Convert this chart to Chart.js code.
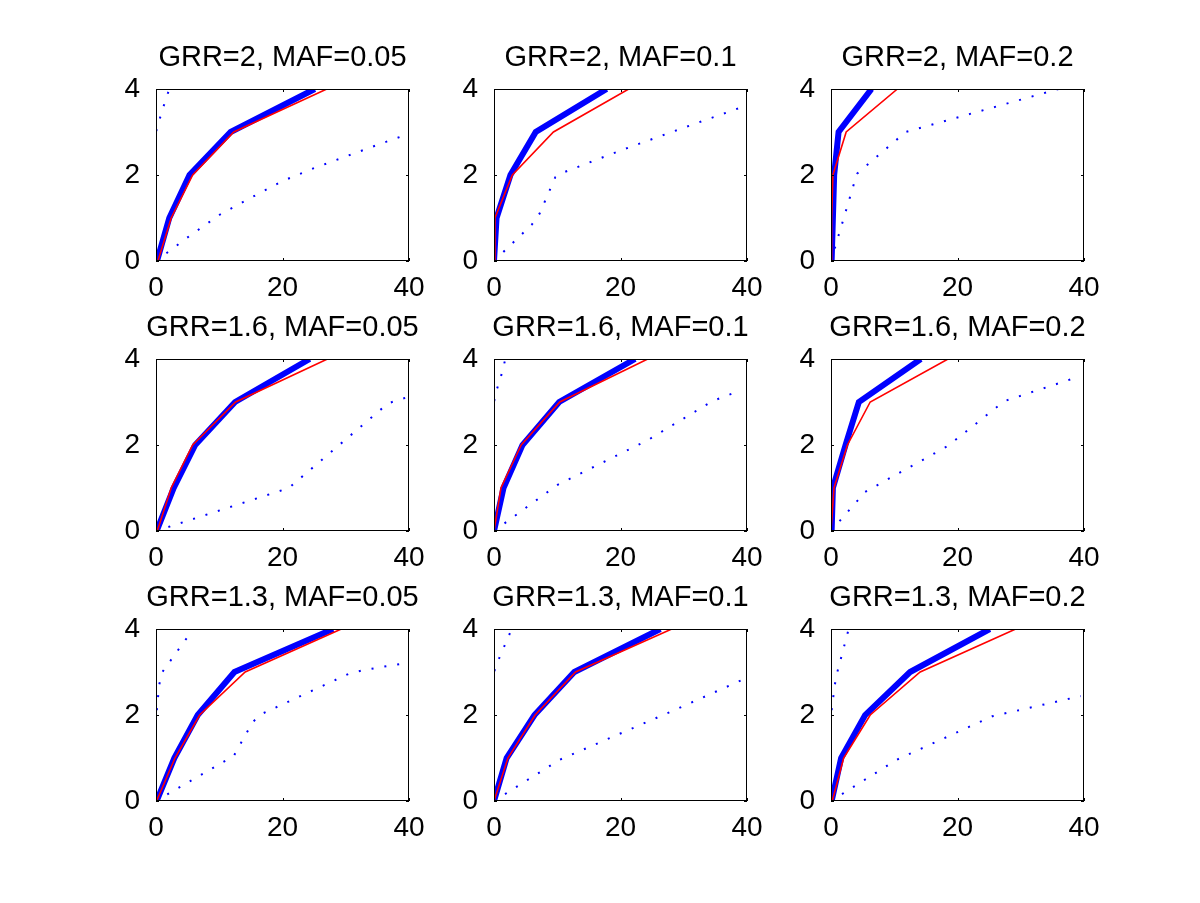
<!DOCTYPE html>
<html>
<head>
<meta charset="utf-8">
<script src="https://cdn.jsdelivr.net/npm/chart.js@4"></script>
<style>
  body { margin: 0; background: #fff; }
  #wrap { position: relative; width: 1200px; height: 903px; background: #fff; }
  canvas { position: absolute; }
</style>
</head>
<body>
<div id="wrap"></div>
<script>
// titulos dos paineis (linha a linha)
var titles = ['GRR=2, MAF=0.05', 'GRR=2, MAF=0.1', 'GRR=2, MAF=0.2',
              'GRR=1.6, MAF=0.05', 'GRR=1.6, MAF=0.1', 'GRR=1.6, MAF=0.2',
              'GRR=1.3, MAF=0.05', 'GRR=1.3, MAF=0.1', 'GRR=1.3, MAF=0.2'];
var xTicks = [0, 20, 40];
var yTicks = [0, 2, 4];
var yLevels = [0, 1, 2, 3, 4];

// linha azul grossa: x em cada nivel de y
var blueX = [
  [0.16, 2.1, 5.3, 11.8, 25.1],
  [0, 0.4, 2.6, 6.6, 17.8],
  [0.1, 0.3, 0.5, 1.2, 6.4],
  [0.1, 2.8, 6.2, 12.5, 24.3],
  [0, 1.5, 4.5, 10.3, 22.3],
  [0.1, 0.3, 2.3, 4.4, 14.2],
  [0.1, 2.9, 6.6, 12.4, 28],
  [0, 2.0, 6.4, 12.7, 26.3],
  [0.1, 1.6, 5.4, 12.5, 25.1]
];
// linha vermelha fina
var redX = [
  [0.3, 2.4, 5.8, 12.3, 27],
  [0, 0.15, 2.9, 9.4, 21.3],
  [0, 0.1, 0.3, 2.4, 10.5],
  [0.2, 2.4, 5.8, 12.6, 27.1],
  [0, 1.1, 4.3, 10.4, 24.3],
  [0, 0.47, 2.6, 6.2, 18.5],
  [0.1, 3.0, 6.9, 14.1, 29.3],
  [0, 2.2, 6.5, 12.9, 28.1],
  [0.2, 2.0, 6.2, 14.1, 29.2]
];
// pontilhado da direita [x, y]
var dotLower = [
  [[0,0],[5,0.55],[10,1.07],[15,1.47],[20,1.86],[25,2.16],[30,2.43],[35,2.70],[40,2.96]],
  [[0,0],[6,0.85],[7.2,1.1],[9.7,1.95],[11,2.06],[20,2.57],[30,3.1],[40,3.62]],
  [[0,0],[4.1,2.03],[11.8,3.0],[36,4]],
  [[0,0],[21,1.0],[36.7,2.97],[39.5,3.1]],
  [[0,0],[10,1.07],[24.4,2.12],[34.5,3.02],[39,3.27]],
  [[0,0],[5.4,0.91],[18.5,1.98],[27.4,3.02],[39,3.58]],
  [[0,0],[12.3,1.05],[15.3,1.84],[16.8,2.03],[30.5,2.96],[33,3.05],[40,3.22]],
  [[0,0],[10.4,0.96],[28,2.08],[39,2.8]],
  [[0,0],[10.4,0.96],[25.5,1.97],[39.5,2.44]]
];
// pontilhado junto ao eixo y
var dotUpper = [
  [[0,0],[0,3.0],[0.6,3.31],[1.2,3.6],[2.1,4]],
  [[0,0],[0,4]],
  [[0,0],[0,4]],
  [[0,0],[0,4]],
  [[0,0],[0,3.0],[0.42,3.28],[1.06,3.57],[1.8,4]],
  [[0,0],[0,4]],
  [[0,0],[0,1.9],[0.5,2.7],[1,3.0],[5.9,4]],
  [[0,0],[0,3.0],[0.7,3.28],[2.8,4]],
  [[0,0],[0,2.0],[0.6,2.7],[1,3],[2.8,4]]
];

var colLeft = [156, 494, 831];
var rowTop = [89, 359, 629];
var plotW = 253, plotH = 172;
var fonte = '"Liberation Sans", Arial, Helvetica, sans-serif';

function toPts(arr) {
    return arr.map(function (p) { return { x: p[0], y: p[1] }; });
}
function levelPts(xs) {
    return xs.map(function (v, i) { return { x: v, y: yLevels[i] }; });
}

// caixa do eixo e ticks para dentro (estilo matlab)
var moldura = {
    id: 'moldura',
    afterDraw: function (chart) {
        var ctx = chart.ctx, a = chart.chartArea;
        var sx = chart.scales.x, sy = chart.scales.y;
        ctx.save();
        ctx.strokeStyle = '#000';
        ctx.lineWidth = 1;
        ctx.strokeRect(a.left + 0.5, a.top + 0.5, a.right - a.left - 1, a.bottom - a.top - 1);
        ctx.beginPath();
        xTicks.forEach(function (v) {
            var px = Math.round(sx.getPixelForValue(v)) + 0.5;
            ctx.moveTo(px, a.bottom); ctx.lineTo(px, a.bottom - 3);
            ctx.moveTo(px, a.top); ctx.lineTo(px, a.top + 3);
        });
        yTicks.forEach(function (v) {
            var py = Math.round(sy.getPixelForValue(v)) + 0.5;
            ctx.moveTo(a.left, py); ctx.lineTo(a.left + 3, py);
            ctx.moveTo(a.right, py); ctx.lineTo(a.right - 3, py);
        });
        ctx.stroke();
        ctx.restore();
    }
};

var wrap = document.getElementById('wrap');

for (var i = 0; i < 9; i++) {
    var c = document.createElement('canvas');
    c.width = plotW + 120;
    c.height = 48 + plotH + 50;
    c.style.left = (colLeft[i % 3] - 60) + 'px';
    c.style.top = (rowTop[Math.floor(i / 3)] - 48) + 'px';
    wrap.appendChild(c);

    new Chart(c, {
        type: 'scatter',
        data: {
            datasets: [
                { data: levelPts(redX[i]), showLine: true, borderColor: '#ff0000', borderWidth: 1.6, pointRadius: 0 },
                { data: levelPts(blueX[i]), showLine: true, borderColor: '#0000ff', borderWidth: 6, pointRadius: 0 },
                { data: toPts(dotLower[i]), showLine: true, borderColor: '#0000ff', borderWidth: 2, borderDash: [2, 11], pointRadius: 0 },
                { data: toPts(dotUpper[i]), showLine: true, borderColor: '#0000ff', borderWidth: 2, borderDash: [2, 11], pointRadius: 0 }
            ]
        },
        options: {
            responsive: false,
            animation: false,
            devicePixelRatio: 1,
            layout: { padding: 0 },
            plugins: {
                legend: { display: false },
                tooltip: { enabled: false },
                title: {
                    display: true,
                    text: titles[i],
                    color: '#000',
                    font: { family: fonte, size: 29, weight: 'normal' },
                    padding: { top: 0, bottom: 13.2 }
                }
            },
            scales: {
                x: {
                    type: 'linear', min: 0, max: 40,
                    grid: { display: false },
                    border: { display: false },
                    afterFit: function (s) { s.height = 50; },
                    afterBuildTicks: function (s) { s.ticks = xTicks.map(function (v) { return { value: v }; }); },
                    ticks: { color: '#000', padding: 2, maxRotation: 0, font: { family: fonte, size: 28 } }
                },
                y: {
                    type: 'linear', min: 0, max: 4,
                    grid: { display: false },
                    border: { display: false },
                    afterFit: function (s) { s.width = 60; },
                    afterBuildTicks: function (s) { s.ticks = yTicks.map(function (v) { return { value: v }; }); },
                    ticks: { color: '#000', padding: 8, font: { family: fonte, size: 28 } }
                },
                // eixo vazio a direita so para deixar a area centrada
                y2: {
                    type: 'linear', position: 'right', min: 0, max: 4,
                    grid: { display: false },
                    border: { display: false },
                    ticks: { display: false },
                    afterFit: function (s) { s.width = 60; }
                }
            }
        },
        plugins: [moldura]
    });
}
</script>
</body>
</html>
